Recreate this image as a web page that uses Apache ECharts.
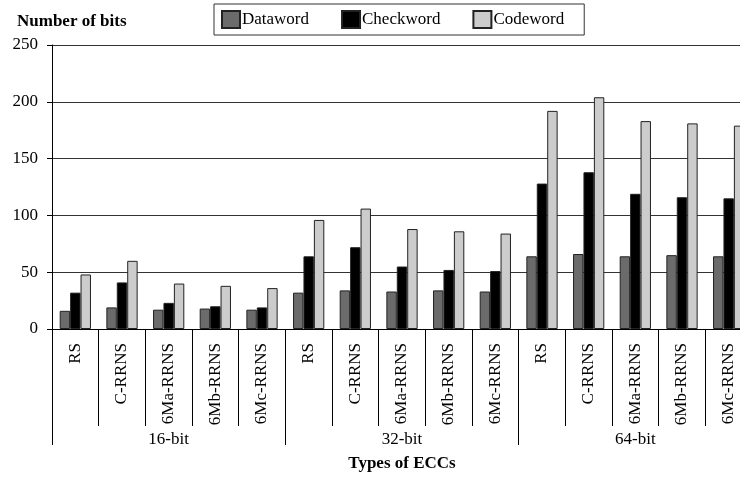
<!DOCTYPE html>
<html>
<head>
<meta charset="utf-8">
<script src="https://cdn.jsdelivr.net/npm/echarts@6/dist/echarts.min.js"></script>
<style>html,body{margin:0;padding:0;background:#fff;overflow:hidden;width:740px;height:477px}#c{width:760px;height:477px}</style>
</head>
<body>
<div id="c"></div>
<script>
const categories = ['RS','C-RRNS','6Ma-RRNS','6Mb-RRNS','6Mc-RRNS','RS','C-RRNS','6Ma-RRNS','6Mb-RRNS','6Mc-RRNS','RS','C-RRNS','6Ma-RRNS','6Mb-RRNS','6Mc-RRNS'];
const groups = ['16-bit','32-bit','64-bit'];
const dataword = [16,19,17,18,17, 32,34,33,34,33, 64,66,64,65,64];
const checkword = [32,41,23,20,19, 64,72,55,52,51, 128,138,119,116,115];
const codeword = [48,60,40,38,36, 96,106,88,86,84, 192,204,183,181,179];
const yTicks = {min:0, max:250, interval:50};

const serif = 'Liberation Serif';
const chart = echarts.init(document.getElementById('c'));
const border = {borderColor:'#222', borderWidth:1};
chart.setOption({
  animation:false,
  textStyle:{fontFamily:serif, color:'#000'},
  title:[
    {text:'Number of bits', left:12, top:8, textStyle:{fontFamily:serif, fontWeight:'bold', fontSize:17, color:'#000'}}
  ],
  legend:{
    top:4, left:214, padding:[6,20,6,7], itemGap:32, itemWidth:18, itemHeight:17,
    borderColor:'#333', borderWidth:1, icon:'rect',
    textStyle:{fontFamily:serif, fontSize:17, color:'#000', padding:[0,0,0,-3]},
    data:['Dataword','Checkword','Codeword']
  },
  grid:{left:52, top:45, height:286, width:700},
  xAxis:[
    {type:'category', data:categories, position:'bottom', offset:0,
     axisLine:{lineStyle:{color:'#000'}},
     axisTick:{show:true, interval:0, length:97, lineStyle:{color:'#000'}},
     axisLabel:{interval:0, rotate:90, fontSize:17, fontFamily:serif, color:'#000', margin:14}},
    {type:'category', data:groups, position:'bottom', offset:0,
     axisLine:{show:false},
     axisTick:{show:true, interval:0, length:116, lineStyle:{color:'#000'}},
     axisLabel:{interval:0, fontSize:17, fontFamily:serif, color:'#000', margin:102},
     name:'Types of ECCs', nameLocation:'middle', nameGap:126,
     nameTextStyle:{fontFamily:serif, fontWeight:'bold', fontSize:17, color:'#000'}}
  ],
  yAxis:{type:'value', min:yTicks.min, max:yTicks.max, interval:yTicks.interval,
    axisLine:{show:true, lineStyle:{color:'#000'}},
    axisTick:{show:true, length:5, lineStyle:{color:'#000'}},
    axisLabel:{fontSize:17, fontFamily:serif, color:'#000', margin:14},
    splitLine:{lineStyle:{color:'#333', width:1}}},
  series:[
    {name:'Dataword', type:'bar', data:dataword, barGap:'0%', barCategoryGap:'33%', itemStyle:Object.assign({color:'#6b6b6b'}, border)},
    {name:'Checkword', type:'bar', data:checkword, itemStyle:Object.assign({color:'#000000'}, border)},
    {name:'Codeword', type:'bar', data:codeword, itemStyle:Object.assign({color:'#cccccc'}, border)}
  ]
});
</script>
</body>
</html>
